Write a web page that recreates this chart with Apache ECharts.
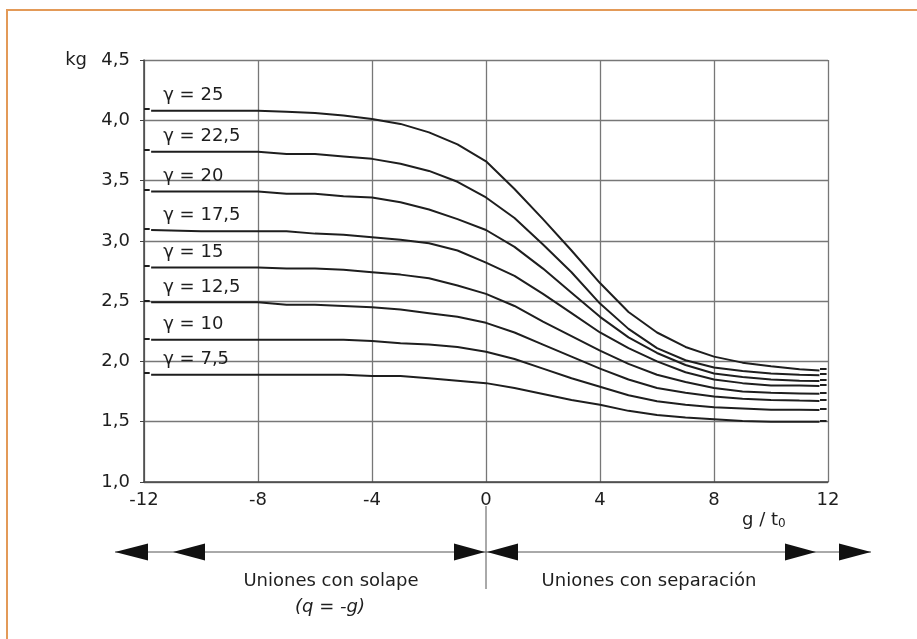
<!DOCTYPE html>
<html>
<head>
<meta charset="utf-8">
<script src="https://cdn.jsdelivr.net/npm/echarts@6/dist/echarts.min.js"></script>
<style>
  html, body { margin: 0; padding: 0; background: #fff; }
  #chart { width: 917px; height: 639px; }
</style>
</head>
<body>
<div id="chart"></div>
<script>
// g / t0 sample positions shared by all curves
const xValues = [-11.75, -10, -8, -7, -6, -5, -4, -3, -2, -1, 0, 1, 2, 3, 4, 5, 6, 7, 8, 9, 10, 11, 11.7];

const gamma25  = [4.08, 4.08, 4.08, 4.07, 4.06, 4.04, 4.01, 3.97, 3.90, 3.80, 3.66, 3.43, 3.18, 2.92, 2.65, 2.41, 2.24, 2.12, 2.04, 1.99, 1.96, 1.935, 1.925];
const gamma225 = [3.74, 3.74, 3.74, 3.72, 3.72, 3.70, 3.68, 3.64, 3.58, 3.49, 3.36, 3.19, 2.97, 2.74, 2.48, 2.27, 2.11, 2.01, 1.95, 1.92, 1.90, 1.89, 1.886];
const gamma20  = [3.41, 3.41, 3.41, 3.39, 3.39, 3.37, 3.36, 3.32, 3.26, 3.18, 3.09, 2.95, 2.77, 2.57, 2.37, 2.20, 2.07, 1.97, 1.90, 1.87, 1.85, 1.84, 1.838];
const gamma175 = [3.09, 3.08, 3.08, 3.08, 3.06, 3.05, 3.03, 3.01, 2.98, 2.92, 2.82, 2.71, 2.56, 2.40, 2.24, 2.11, 2.00, 1.91, 1.85, 1.82, 1.80, 1.80, 1.797];
const gamma15  = [2.78, 2.78, 2.78, 2.77, 2.77, 2.76, 2.74, 2.72, 2.69, 2.63, 2.56, 2.46, 2.33, 2.21, 2.09, 1.98, 1.89, 1.83, 1.78, 1.75, 1.74, 1.735, 1.731];
const gamma125 = [2.49, 2.49, 2.49, 2.47, 2.47, 2.46, 2.45, 2.43, 2.40, 2.37, 2.32, 2.24, 2.14, 2.04, 1.94, 1.85, 1.78, 1.74, 1.71, 1.69, 1.68, 1.675, 1.672];
const gamma10  = [2.18, 2.18, 2.18, 2.18, 2.18, 2.18, 2.17, 2.15, 2.14, 2.12, 2.08, 2.02, 1.94, 1.86, 1.79, 1.72, 1.67, 1.64, 1.62, 1.61, 1.60, 1.60, 1.598];
const gamma75  = [1.89, 1.89, 1.89, 1.89, 1.89, 1.89, 1.88, 1.88, 1.86, 1.84, 1.82, 1.78, 1.73, 1.68, 1.64, 1.59, 1.555, 1.535, 1.52, 1.505, 1.50, 1.50, 1.50];

const curveNames = ['γ = 25', 'γ = 22,5', 'γ = 20', 'γ = 17,5', 'γ = 15', 'γ = 12,5', 'γ = 10', 'γ = 7,5'];
const curveValues = [gamma25, gamma225, gamma20, gamma175, gamma15, gamma125, gamma10, gamma75];

const FONT = '"DejaVu Sans", Verdana, sans-serif';
const INK = '#1e1e1e';

const chart = echarts.init(document.getElementById('chart'), null, { renderer: 'canvas' });

const series = curveValues.map((vals, i) => {
  const first = vals[0];
  const last = vals[vals.length - 1];
  return {
    name: curveNames[i],
    type: 'line',
    data: xValues.map((x, j) => [x, vals[j]]),
    showSymbol: false,
    smooth: false,
    silent: true,
    clip: false,
    lineStyle: { color: INK, width: 2 },
    // little lead-in / lead-out dashes at both ends of each curve
    markLine: {
      silent: true,
      symbol: 'none',
      label: { show: false },
      lineStyle: { color: INK, width: 2, type: 'solid' },
      data: [
        [{ coord: [-12, first + 0.012] }, { coord: [-11.8, first + 0.012] }],
        [{ coord: [11.72, last + 0.012] }, { coord: [11.95, last + 0.012] }],
      ],
    },
    markPoint: {
      symbol: 'circle',
      symbolSize: 0,
      silent: true,
      data: [{
        coord: [-11.5, first],
        label: {
          show: true,
          position: 'right',
          distance: 5,
          offset: [0, -15],
          formatter: curveNames[i],
          fontFamily: FONT,
          fontSize: 18,
          color: INK,
        },
      }],
    },
  };
});

// arrow triangles below the plot (pixel layout of the annotation band)
const arrowY = 552;
const half = 8.5;
const tri = (tip, base) => ({
  type: 'polygon',
  silent: true,
  shape: { points: [[tip, arrowY], [base, arrowY - half], [base, arrowY + half]] },
  style: { fill: '#111' },
});

const option = {
  animation: false,
  backgroundColor: '#fff',
  grid: { left: 144, right: 89, top: 60, bottom: 157 },
  xAxis: {
    type: 'value',
    min: -12,
    max: 12,
    interval: 4,
    axisLine: { show: true, onZero: false, lineStyle: { color: '#444', width: 1.5 } },
    axisTick: { show: false },
    splitLine: { show: true, lineStyle: { color: '#777', width: 1.3 } },
    axisLabel: {
      margin: 9,
      fontFamily: FONT,
      fontSize: 18,
      color: INK,
      formatter: (v) => String(v),
    },
  },
  yAxis: {
    type: 'value',
    min: 1,
    max: 4.5,
    interval: 0.5,
    name: 'kg',
    nameLocation: 'end',
    nameGap: 0,
    nameTextStyle: {
      fontFamily: FONT,
      fontSize: 18,
      color: INK,
      align: 'right',
      verticalAlign: 'middle',
      padding: [0, 57, 0, 0],
    },
    axisLine: { show: true, onZero: false, lineStyle: { color: '#444', width: 1.5 } },
    axisTick: { show: true, inside: false, length: 4, lineStyle: { color: '#444' } },
    splitLine: { show: true, lineStyle: { color: '#777', width: 1.3 } },
    axisLabel: {
      margin: 14,
      fontFamily: FONT,
      fontSize: 18,
      color: INK,
      formatter: (v) => v.toFixed(1).replace('.', ','),
    },
  },
  series: series,
  graphic: [
    // orange frame
    {
      type: 'polyline',
      silent: true,
      shape: { points: [[7, 639], [7, 10], [917, 10]] },
      style: { stroke: '#e39a58', lineWidth: 2, fill: null },
    },
    // axis title g / t0
    {
      type: 'text',
      left: 742,
      top: 511,
      silent: true,
      style: {
        text: 'g / t{sub|0}',
        fontFamily: FONT,
        fontSize: 18,
        fill: INK,
        rich: { sub: { fontFamily: FONT, fontSize: 12, fill: INK, verticalAlign: 'bottom', padding: [8, 0, 0, 0] } },
      },
    },
    // arrow band
    {
      type: 'line',
      silent: true,
      shape: { x1: 115, y1: arrowY, x2: 871, y2: arrowY },
      style: { stroke: '#555', lineWidth: 1 },
    },
    {
      type: 'line',
      silent: true,
      shape: { x1: 486, y1: 506, x2: 486, y2: 589 },
      style: { stroke: '#555', lineWidth: 1 },
    },
    tri(115, 148),
    tri(173, 205),
    tri(485, 454),
    tri(487, 518),
    tri(816, 785),
    tri(871, 839),
    {
      type: 'text',
      x: 331,
      y: 581,
      silent: true,
      style: { text: 'Uniones con solape', fontFamily: FONT, fontSize: 18, fill: INK, align: 'center', verticalAlign: 'middle' },
    },
    {
      type: 'text',
      x: 330,
      y: 607,
      silent: true,
      style: { text: '(q = -g)', fontFamily: FONT, fontSize: 18, fontStyle: 'italic', fill: INK, align: 'center', verticalAlign: 'middle' },
    },
    {
      type: 'text',
      x: 649,
      y: 581,
      silent: true,
      style: { text: 'Uniones con separación', fontFamily: FONT, fontSize: 18, fill: INK, align: 'center', verticalAlign: 'middle' },
    },
  ],
};

chart.setOption(option);
</script>
</body>
</html>
